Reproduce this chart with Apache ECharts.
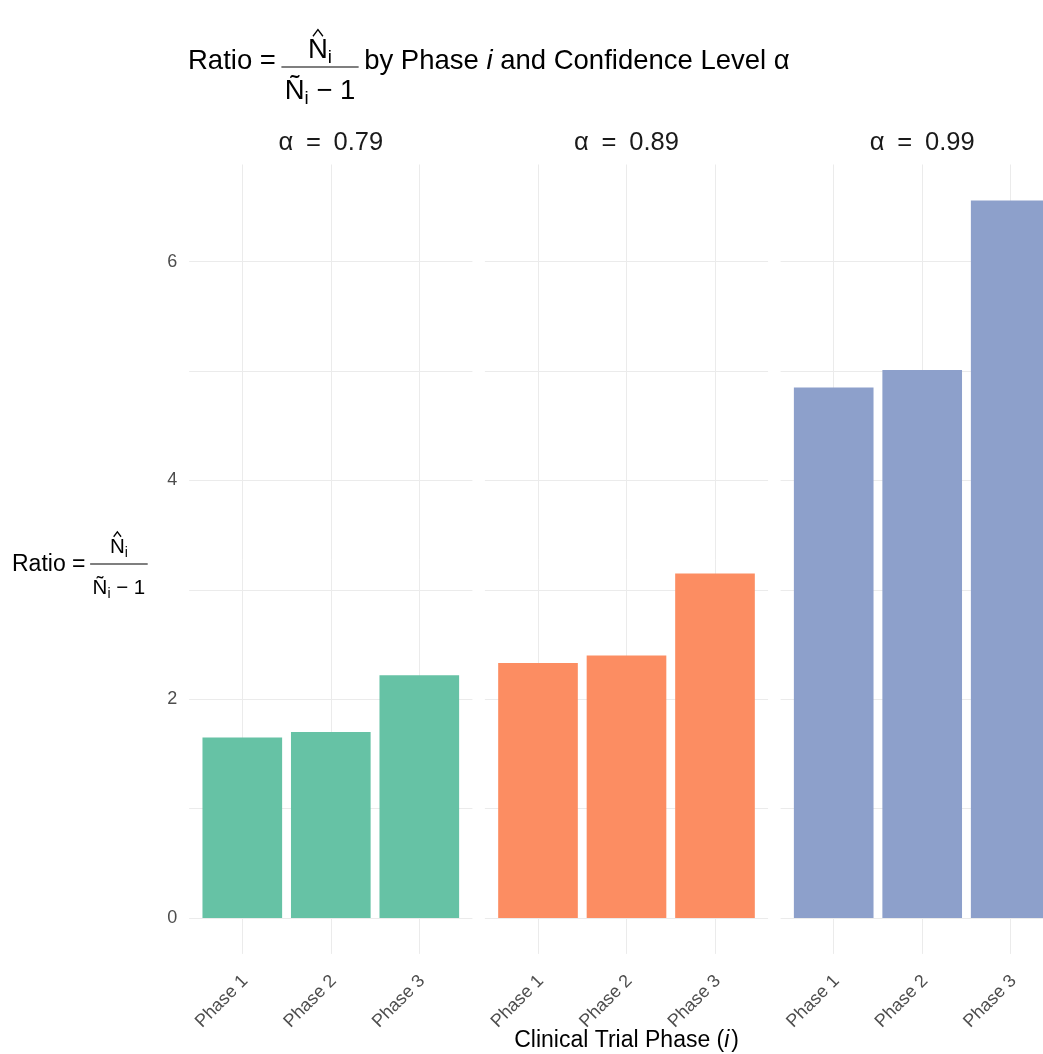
<!DOCTYPE html>
<html>
<head>
<meta charset="utf-8">
<script src="https://cdn.jsdelivr.net/npm/echarts@6/dist/echarts.min.js"></script>
<style>
  html, body { margin: 0; padding: 0; background: #ffffff; }
  #chart { width: 1043px; height: 1054px; }
</style>
</head>
<body>
<div id="chart"></div>
<script>
// Ratio by clinical trial phase, one facet per confidence level
const phases = ['Phase 1', 'Phase 2', 'Phase 3'];
const alphaLevels = ['0.79', '0.89', '0.99'];
const ratioAlpha079 = [1.65, 1.70, 2.22];
const ratioAlpha089 = [2.33, 2.40, 3.15];
const ratioAlpha099 = [4.85, 5.01, 6.56];
const yTickValues = [0, 2, 4, 6];
const panelColors = ['#66c2a5', '#fc8d62', '#8da0cb'];

const panelValues = [ratioAlpha079, ratioAlpha089, ratioAlpha099];
const FONT = '"Liberation Sans", Arial, Helvetica, sans-serif';

// facet geometry (discrete axis padded by 0.6 of a band on each side)
const band = 88.5;
const panelWidth = 3.2 * band;
const panelGap = 12.5;
const firstPanelLeft = 189.2;
const plotTop = 164.5;
const zeroY = 918;
const plotBottom = 953.9;
const gridColor = '#ebebeb';

// y range: zero up to the tallest bar plus 5%
const dataMax = Math.max(...panelValues.flat());
const yMax = dataMax * 1.05;

const grids = [], xAxes = [], yAxes = [], series = [], graphics = [];

panelValues.forEach((values, p) => {
  const left = firstPanelLeft + p * (panelWidth + panelGap);

  // horizontal grid lines across the whole panel
  const gH = grids.length;
  grids.push({ left: left, top: plotTop, width: panelWidth, height: zeroY - plotTop, outerBoundsMode: 'none' });
  xAxes.push({ gridIndex: gH, type: 'value', show: false, min: 0, max: 1 });
  yAxes.push({
    gridIndex: gH, type: 'value', min: 0, max: yMax, interval: 1,
    axisLine: { show: false }, axisTick: { show: false },
    axisLabel: p === 0 ? {
      show: true, margin: 12, color: '#4d4d4d', fontSize: 18, fontFamily: FONT,
      showMaxLabel: false,
      formatter: v => (yTickValues.indexOf(v) >= 0 ? String(v) : '')
    } : { show: false },
    splitLine: { show: true, showMaxLine: false, lineStyle: { color: gridColor, width: 1 } }
  });

  // vertical grid lines at each phase, running down past the zero line
  const gV = grids.length;
  grids.push({ left: left + 0.6 * band, top: plotTop, width: 2 * band, height: plotBottom - plotTop, outerBoundsMode: 'none' });
  xAxes.push({
    gridIndex: gV, type: 'category', data: phases, boundaryGap: false,
    axisLine: { show: false }, axisTick: { show: false },
    splitLine: { show: true, interval: 0, lineStyle: { color: gridColor, width: 1 } },
    axisLabel: {
      interval: 0, rotate: 45, margin: 27, padding: [0, -4, 0, 0],
      color: '#4d4d4d', fontSize: 18, fontFamily: FONT
    }
  });
  yAxes.push({ gridIndex: gV, type: 'value', show: false, min: 0, max: 1 });

  // bars
  const gB = grids.length;
  grids.push({ left: left + 0.1 * band, top: plotTop, width: 3 * band, height: zeroY - plotTop, outerBoundsMode: 'none' });
  xAxes.push({ gridIndex: gB, type: 'category', data: phases, show: false, boundaryGap: true });
  yAxes.push({ gridIndex: gB, type: 'value', show: false, min: 0, max: yMax });
  series.push({
    type: 'bar', xAxisIndex: gB, yAxisIndex: gB, data: values, barWidth: '90%',
    itemStyle: { color: panelColors[p] }, silent: true, animation: false
  });

  // facet strip label
  graphics.push({
    type: 'text', x: left + panelWidth / 2, y: 143,
    style: {
      text: 'α\u2002=\u2002' + alphaLevels[p], fill: '#1a1a1a',
      font: '25.5px ' + FONT, align: 'center', verticalAlign: 'middle'
    }
  });
});

// text measuring for the stacked fractions
const mctx = document.createElement('canvas').getContext('2d');
function textWidth(str, size, style) {
  mctx.font = (style ? style + ' ' : '') + size + 'px ' + FONT;
  return mctx.measureText(str).width;
}
function txt(x, y, str, size, opts) {
  opts = opts || {};
  return {
    type: 'text', x: x, y: y,
    style: {
      text: str, fill: opts.fill || '#000000',
      font: (opts.style ? opts.style + ' ' : '') + size + 'px ' + FONT,
      align: opts.align || 'left', verticalAlign: 'middle'
    }
  };
}

// "Ratio = N-hat_i / (N-tilde_i - 1)"; returns the right edge
function ratioFormula(x, midY, fs, ffs, lineY, numY, denY) {
  const sub = ffs * 0.68;
  const subDrop = ffs * 0.28;
  graphics.push(txt(x, midY, 'Ratio =', fs));
  const fx = x + textWidth('Ratio =', fs) + fs * 0.2;

  const wN = textWidth('N', ffs);
  const wi = textWidth('i', sub);
  const wNt = textWidth('Ñ', ffs);
  const wTail = textWidth(' \u2212 1', ffs);
  const numW = wN + wi;
  const denW = wNt + wi + wTail;
  const pad = ffs * 0.12;
  const lineW = Math.max(numW, denW) + 2 * pad;

  graphics.push({
    type: 'line', shape: { x1: fx, y1: lineY, x2: fx + lineW, y2: lineY },
    style: { stroke: '#000000', lineWidth: 1.2 }
  });

  // numerator
  const nx = fx + (lineW - numW) / 2;
  graphics.push(txt(nx, numY, 'N', ffs));
  graphics.push(txt(nx + wN, numY + subDrop, 'i', sub));
  const capTop = numY - ffs * 0.36;
  graphics.push({
    type: 'polyline',
    shape: { points: [[nx + wN * 0.25, capTop - ffs * 0.14], [nx + wN * 0.5, capTop - ffs * 0.38], [nx + wN * 0.75, capTop - ffs * 0.14]] },
    style: { stroke: '#000000', lineWidth: 1.3, fill: null }
  });

  // denominator
  const dx = fx + (lineW - denW) / 2;
  graphics.push(txt(dx, denY, 'Ñ', ffs));
  graphics.push(txt(dx + wNt, denY + subDrop, 'i', sub));
  graphics.push(txt(dx + wNt + wi, denY, ' \u2212 1', ffs));

  return fx + lineW;
}

// chart title
const titleFs = 27.5;
const titleRight = ratioFormula(188, 61, titleFs, titleFs, 67, 50, 91);
graphics.push({
  type: 'text', x: titleRight + titleFs * 0.2, y: 61,
  style: {
    text: 'by Phase {it|i} and Confidence Level α',
    fill: '#000000', font: titleFs + 'px ' + FONT, verticalAlign: 'middle',
    rich: { it: { fontStyle: 'italic', fontSize: titleFs, fontFamily: FONT } }
  }
});

// y axis title
ratioFormula(12, 565, 23, 20.5, 564, 547, 588);

// x axis title
graphics.push({
  type: 'text', x: 626.6, y: 1041,
  style: {
    text: 'Clinical Trial Phase ({it|i}\u200A)',
    fill: '#000000', font: '23px ' + FONT, align: 'center', verticalAlign: 'middle',
    rich: { it: { fontStyle: 'italic', fontSize: 23, fontFamily: FONT } }
  }
});

const chart = echarts.init(document.getElementById('chart'), null, { renderer: 'canvas' });
chart.setOption({
  backgroundColor: '#ffffff',
  animation: false,
  textStyle: { fontFamily: FONT },
  grid: grids,
  xAxis: xAxes,
  yAxis: yAxes,
  series: series,
  graphic: { elements: graphics }
});
</script>
</body>
</html>
